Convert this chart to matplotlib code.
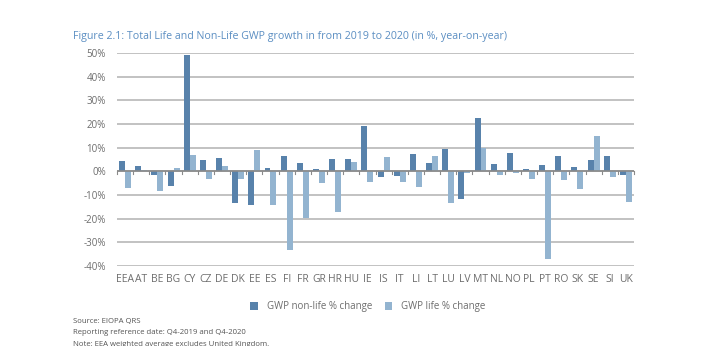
import numpy as np
import matplotlib.pyplot as plt

# GWP growth 2019 -> 2020, % year-on-year
paises = ['EEA', 'AT', 'BE', 'BG', 'CY', 'CZ', 'DE', 'DK', 'EE', 'ES', 'FI', 'FR',
          'GR', 'HR', 'HU', 'IE', 'IS', 'IT', 'LI', 'LT', 'LU', 'LV', 'MT', 'NL',
          'NO', 'PL', 'PT', 'RO', 'SK', 'SE', 'SI', 'UK']
no_vida = [4.4, 2.3, -1.4, -6.1, 49.3, 4.8, 5.6, -13.3, -14.1, 1.4, 6.5, 3.5,
           1.0, 5.2, 5.2, 19.2, -2.3, -1.8, 7.3, 3.5, 9.5, -11.6, 22.6, 3.1,
           7.8, 1.0, 2.7, 6.5, 1.8, 4.8, 6.5, -1.4]
vida = [-6.9, 0.6, -8.2, 1.4, 6.9, -3.1, 2.3, -3.1, 9.0, -14.1, -33.2, -19.6,
        -4.8, -17.1, 4.0, -4.4, 6.1, -4.4, -6.5, 6.5, -13.3, -0.6, 9.9, -1.4,
        -0.6, -3.1, -37.0, -3.5, -7.3, 15.0, -2.3, -12.9]
yticks = [-40, -30, -20, -10, 0, 10, 20, 30, 40, 50]

azul_osc = '#5882ab'
azul_cla = '#93b4d0'
gris = '#6d6d6d'

plt.rcParams['font.family'] = ['Open Sans', 'DejaVu Sans']

fig = plt.figure(figsize=(7.28, 3.46), dpi=100)
ax = fig.add_axes([117/728, 1-266/346, (634-117)/728, (266-53)/346])

x = np.arange(len(paises))
w = 0.37
ax.bar(x - w/2, no_vida, w, color=azul_osc, label='GWP non-life % change', zorder=3)
ax.bar(x + w/2, vida, w, color=azul_cla, label='GWP life % change', zorder=3)

ax.set_xlim(-0.5, len(paises) - 0.5)
ax.set_ylim(-40, 50)
ax.set_yticks(yticks)
ax.set_yticklabels([f'{t}%' for t in yticks])
ax.yaxis.grid(True, color='#bdbdbd', linewidth=1.3, zorder=0)
ax.tick_params(axis='y', length=0, labelsize=7, labelcolor=gris, pad=8)
for s in ax.spines.values():
    s.set_visible(False)

# linea del cero con marcas entre paises
ax.axhline(0, color='#8a8a8a', linewidth=1.2, zorder=4)
for b in np.arange(-0.5, len(paises), 1.0):
    ax.plot([b, b], [0, -1.3], color='#8a8a8a', linewidth=0.8, zorder=4, clip_on=False)

# etiquetas de paises abajo del todo
ax.set_xticks(x)
ax.set_xticklabels(paises)
ax.tick_params(axis='x', length=0, labelsize=7.5, labelcolor=gris, pad=6)

ax.legend(loc='upper center', bbox_to_anchor=(0.485, -0.125), ncol=2, frameon=False,
          fontsize=7, labelcolor=gris, handlelength=0.8, handleheight=0.8,
          columnspacing=1.3, handletextpad=0.9)

fig.text(73/728, 1-36/346, 'Figure 2.1: Total Life and Non-Life GWP growth in from 2019 to 2020 (in %, year-on-year)',
         color='#5b8ec2', fontsize=7.7, va='center', ha='left')
notas = ['Source: EIOPA QRS',
         'Reporting reference date: Q4-2019 and Q4-2020',
         'Note: EEA weighted average excludes United Kingdom.']
for i, n in enumerate(notas):
    fig.text(73/728, 1-(322 + 11*i)/346, n, color='#555555', fontsize=5.6, va='center', ha='left')

plt.savefig('out.png', dpi=100)
